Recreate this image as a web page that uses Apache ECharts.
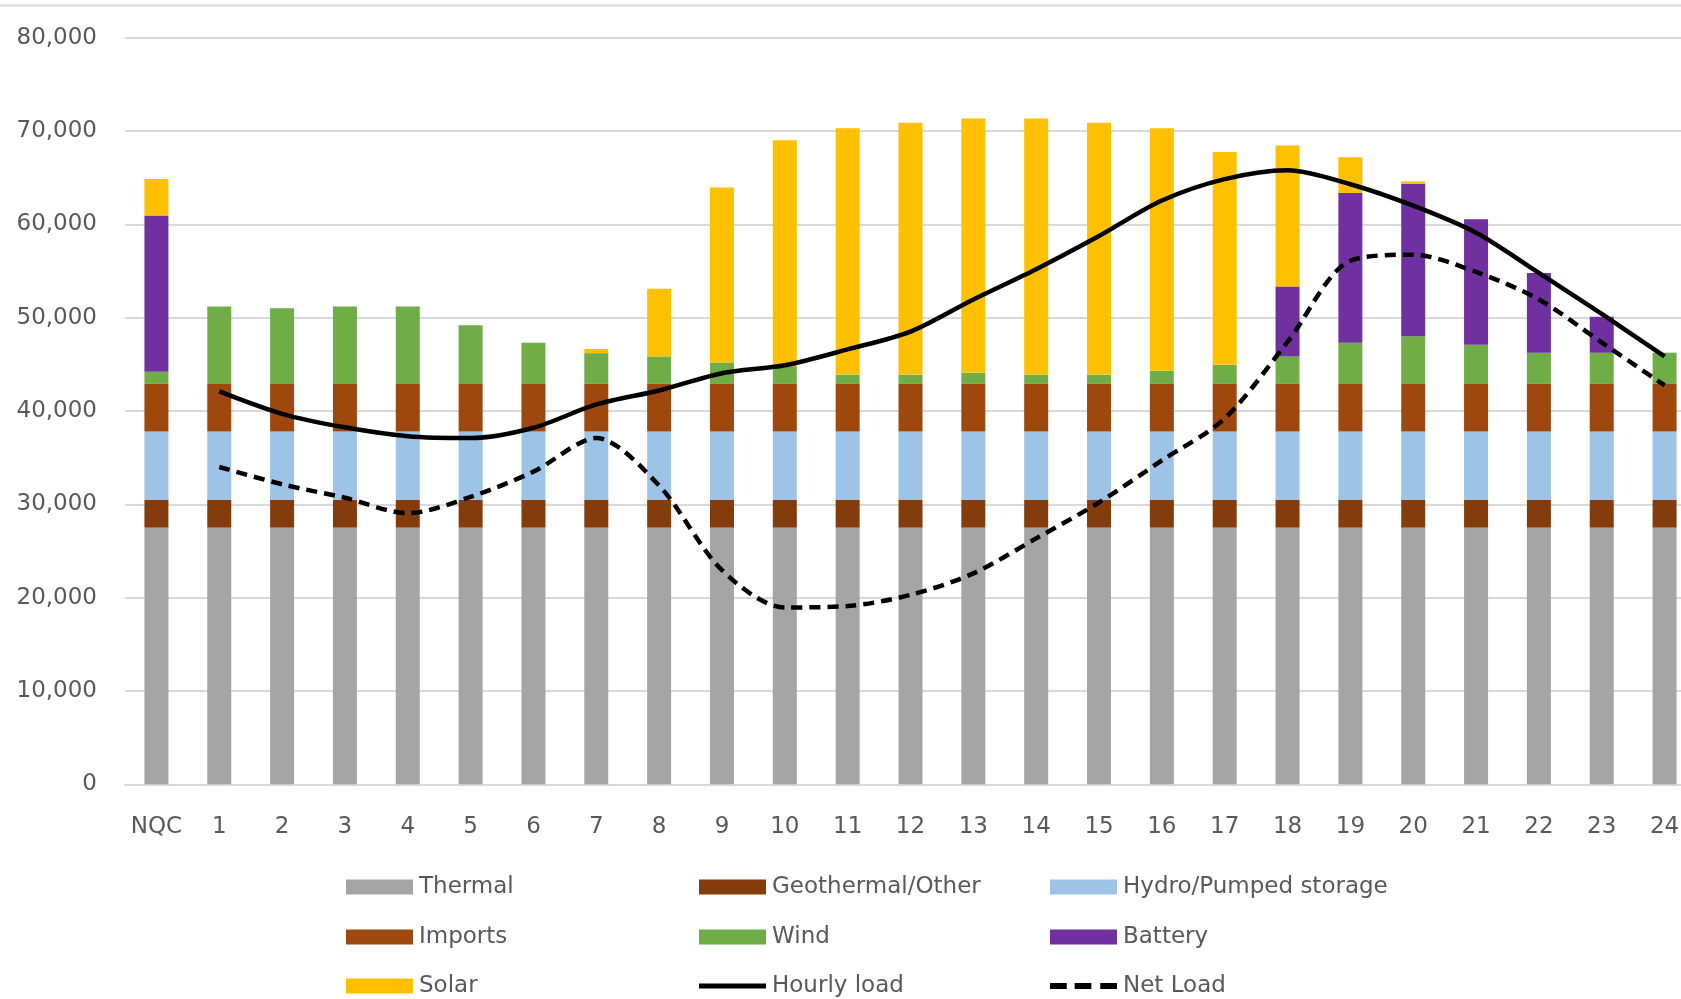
<!DOCTYPE html>
<html>
<head>
<meta charset="utf-8">
<title>Hourly supply stack</title>
<script src="https://cdn.jsdelivr.net/npm/echarts/dist/echarts.min.js"></script>
<style>
    html, body { margin: 0; padding: 0; background: #ffffff; }
    #chart { width: 1681px; height: 999px; }
</style>
</head>
<body>
<div id="chart"></div>
<script>
// 横轴: NQC + 24 小时
var hours = ['NQC', '1', '2', '3', '4', '5', '6', '7', '8', '9', '10', '11', '12',
    '13', '14', '15', '16', '17', '18', '19', '20', '21', '22', '23', '24'];

var yTicks = [0, 10000, 20000, 30000, 40000, 50000, 60000, 70000, 80000];

// 堆叠柱 (MW)
var thermal    = [27500, 27500, 27500, 27500, 27500, 27500, 27500, 27500, 27500, 27500, 27500, 27500, 27500,
                  27500, 27500, 27500, 27500, 27500, 27500, 27500, 27500, 27500, 27500, 27500, 27500];
var geothermal = [3000, 3000, 3000, 3000, 3000, 3000, 3000, 3000, 3000, 3000, 3000, 3000, 3000,
                  3000, 3000, 3000, 3000, 3000, 3000, 3000, 3000, 3000, 3000, 3000, 3000];
var hydro      = [7300, 7300, 7300, 7300, 7300, 7300, 7300, 7300, 7300, 7300, 7300, 7300, 7300,
                  7300, 7300, 7300, 7300, 7300, 7300, 7300, 7300, 7300, 7300, 7300, 7300];
var imports    = [5100, 5100, 5100, 5100, 5100, 5100, 5100, 5100, 5100, 5100, 5100, 5100, 5100,
                  5100, 5100, 5100, 5100, 5100, 5100, 5100, 5100, 5100, 5100, 5100, 5100];
var wind       = [1300, 8300, 8100, 8300, 8300, 6300, 4400, 3300, 2950, 2300, 1900, 1000, 1000,
                  1200, 1000, 1000, 1400, 2050, 2950, 4400, 5100, 4200, 3350, 3350, 3350];
var battery    = [16750, 0, 0, 0, 0, 0, 0, 0, 0, 0, 0, 0, 0,
                  0, 0, 0, 0, 0, 7500, 16050, 16350, 13450, 8550, 3850, 0];
var solar      = [3900, 0, 0, 0, 0, 0, 0, 450, 7250, 18750, 24200, 26400, 27000,
                  27250, 27450, 27000, 26000, 22800, 15100, 3850, 250, 0, 0, 0, 0];

// 折线
var hourlyLoad = ['-', 42100, 39700, 38250, 37300, 37100, 38200, 40700, 42200, 44050, 44900, 46600, 48500,
                  51950, 55200, 58750, 62550, 64850, 65800, 64300, 62000, 59100, 54800, 50400, 45850];
var netLoad    = ['-', 34000, 32150, 30700, 29050, 30800, 33500, 37100, 32000, 22950, 18950, 19100, 20300,
                  22600, 26350, 30200, 34700, 39200, 47400, 56100, 56750, 54900, 51950, 47350, 42750];

var myChart = echarts.init(document.getElementById('chart'), null, {renderer: 'canvas'});

var textColor = '#595959';
var gridColor = '#d9d9d9';
var fontFamily = 'DejaVu Sans';

// 图例里的线形图标
var solidIcon = 'path://M0,0 H68 V5 H0 Z';
var dashIcon = 'path://M0,0 H17 V6 H0 Z M25,0 H42 V6 H25 Z M51,0 H68 V6 H51 Z';

function barSeries(name, data, color) {
    return {
        name: name,
        type: 'bar',
        stack: 'supply',
        barWidth: 24,
        data: data,
        itemStyle: {color: color},
        emphasis: {disabled: true}
    };
}

function lineSeries(name, data, dash) {
    return {
        name: name,
        type: 'line',
        data: data,
        symbol: 'none',
        smooth: 0.3,
        lineStyle: {color: '#000000', width: 4.5, type: dash},
        itemStyle: {color: '#000000'},
        emphasis: {disabled: true},
        z: 5
    };
}

// 每个图例单独放置, 3 x 3
function legendItem(left, centerY, name, icon) {
    return {
        left: left,
        top: centerY - 12,
        padding: 0,
        itemWidth: 67,
        itemHeight: 15,
        selectedMode: false,
        textStyle: {color: textColor, fontSize: 23, lineHeight: 24, fontFamily: fontFamily, padding: [0, 0, 0, 1]},
        data: [{
            name: name,
            icon: icon || 'rect',
            itemStyle: {borderWidth: 0},
            lineStyle: {width: 0}
        }]
    };
}

var colX = [346, 699, 1050];
var rowY = [887, 937, 986];

var option = {
    animation: false,
    backgroundColor: '#ffffff',
    grid: {
        left: 125,
        right: -15,
        top: 37.7,
        bottom: 214.7,
        outerBoundsMode: 'none'
    },
    // 顶部边框线
    graphic: [{
        type: 'line',
        shape: {x1: 0, y1: 5.5, x2: 1681, y2: 5.5},
        style: {stroke: gridColor, lineWidth: 2},
        silent: true
    }],
    legend: [
        legendItem(colX[0], rowY[0], 'Thermal'),
        legendItem(colX[1], rowY[0], 'Geothermal/Other'),
        legendItem(colX[2], rowY[0], 'Hydro/Pumped storage'),
        legendItem(colX[0], rowY[1], 'Imports'),
        legendItem(colX[1], rowY[1], 'Wind'),
        legendItem(colX[2], rowY[1], 'Battery'),
        legendItem(colX[0], rowY[2], 'Solar'),
        legendItem(colX[1], rowY[2], 'Hourly load', solidIcon),
        legendItem(colX[2], rowY[2], 'Net Load', dashIcon)
    ],
    xAxis: {
        type: 'category',
        data: hours,
        axisTick: {show: false},
        axisLine: {lineStyle: {color: gridColor, width: 2}},
        axisLabel: {
            color: textColor,
            fontSize: 23,
            fontFamily: fontFamily,
            margin: 31,
            interval: 0
        }
    },
    yAxis: {
        type: 'value',
        min: yTicks[0],
        max: yTicks[yTicks.length - 1],
        interval: yTicks[1] - yTicks[0],
        axisLine: {show: false},
        axisTick: {show: false},
        splitLine: {lineStyle: {color: gridColor, width: 2}},
        axisLabel: {
            color: textColor,
            fontSize: 23,
            fontFamily: fontFamily,
            margin: 28,
            formatter: function (v) {
                return v.toLocaleString('en-US');
            }
        }
    },
    series: [
        barSeries('Thermal', thermal, '#a5a5a5'),
        barSeries('Geothermal/Other', geothermal, '#843c0c'),
        barSeries('Hydro/Pumped storage', hydro, '#9dc3e6'),
        barSeries('Imports', imports, '#9e480e'),
        barSeries('Wind', wind, '#70ad47'),
        barSeries('Battery', battery, '#7030a0'),
        barSeries('Solar', solar, '#ffc000'),
        lineSeries('Hourly load', hourlyLoad, 'solid'),
        lineSeries('Net Load', netLoad, [11, 7])
    ]
};

myChart.setOption(option);
</script>
</body>
</html>
